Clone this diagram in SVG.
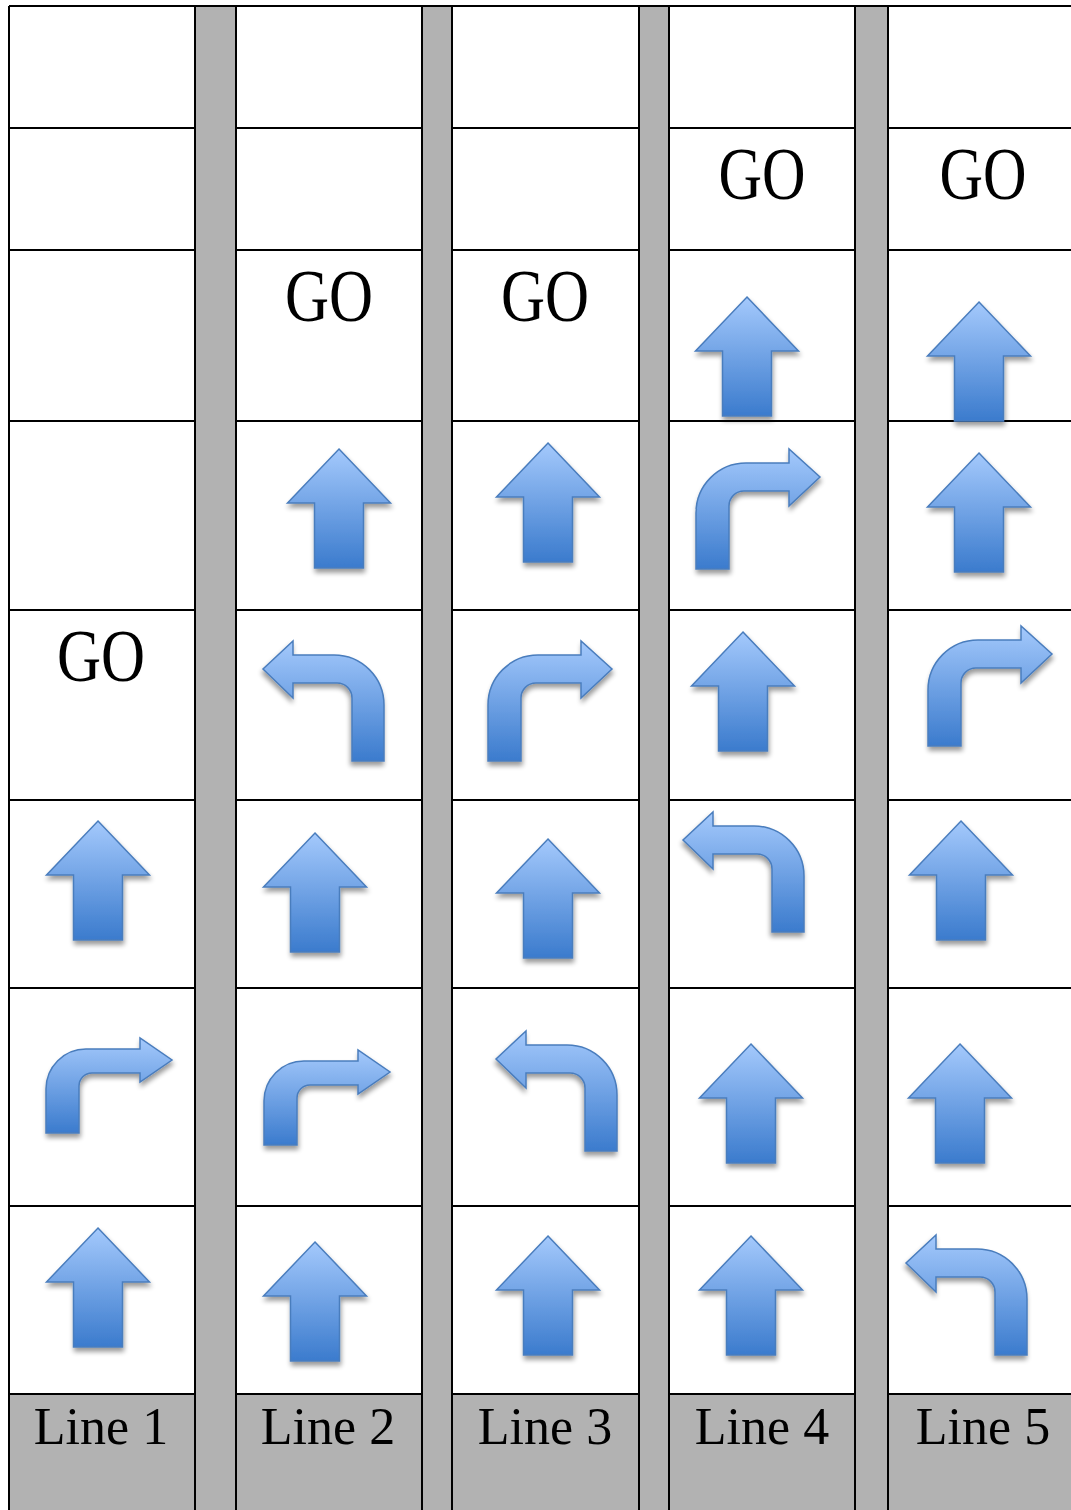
<svg xmlns="http://www.w3.org/2000/svg" width="1071" height="1510" viewBox="0 0 1071 1510">
<style>
.cell{fill:#ffffff}
.grid{stroke:#000;stroke-width:2;fill:none}
.go{font-family:"Liberation Serif","Times New Roman",serif;font-size:73px;fill:#000;text-anchor:middle}
.lbl{font-family:"Liberation Serif","Times New Roman",serif;font-size:52px;fill:#000;text-anchor:middle}
.arr{fill:url(#g);stroke:#4a7dbd;stroke-width:1.5;filter:url(#sh)}
</style>
<defs>
<linearGradient id="g" x1="0" y1="0" x2="0" y2="1">
<stop offset="0" stop-color="#a4c9fc"/>
<stop offset="1" stop-color="#3b7bcd"/>
</linearGradient>
<filter id="sh" x="-20%" y="-20%" width="140%" height="150%">
<feGaussianBlur in="SourceAlpha" stdDeviation="2.5"/>
<feOffset dx="1" dy="4" result="b"/>
<feComponentTransfer><feFuncA type="linear" slope="0.4"/></feComponentTransfer>
<feMerge><feMergeNode/><feMergeNode in="SourceGraphic"/></feMerge>
</filter>
<path id="up" d="M0,0 L51.5,54 H24.5 V119 H-24.5 V54 H-51.5 Z"/>
<path id="rt" d="M0,0 V-56 A50,50 0 0 1 50,-106 H93 V-120 L124,-92 L93,-63 V-78 H48 A15,15 0 0 0 33,-63 V0 Z"/>
<path id="lt" d="M0,0 V-56 A50,50 0 0 1 50,-106 H91 V-120 L121,-92 L91,-63 V-78 H47 A15,15 0 0 0 32,-63 V0 Z"/>
<path id="rs" d="M0,0 V-44 A40,40 0 0 1 40,-84 H94 V-95 L126,-73 L94,-51 V-60 H46 A13,13 0 0 0 33,-47 V0 Z"/>
</defs>
<rect x="9" y="6" width="1062" height="1504" fill="#b2b2b2"/>
<g id="cells">
<rect class="cell" x="9" y="6" width="186" height="1388"/>
<rect class="cell" x="236" y="6" width="186" height="1388"/>
<rect class="cell" x="452" y="6" width="187" height="1388"/>
<rect class="cell" x="669" y="6" width="186" height="1388"/>
<rect class="cell" x="888" y="6" width="183" height="1388"/>
</g>
<g id="grid" class="grid">
<path d="M9,6 H1071 M9,6 V1510 M195,6 V1510 M236,6 V1510 M422,6 V1510 M452,6 V1510 M639,6 V1510 M669,6 V1510 M855,6 V1510 M888,6 V1510"/>
<path d="M9,128 H195 M9,250 H195 M9,421 H195 M9,610 H195 M9,800 H195 M9,988 H195 M9,1206 H195 M9,1394 H195"/>
<path d="M236,128 H422 M236,250 H422 M236,421 H422 M236,610 H422 M236,800 H422 M236,988 H422 M236,1206 H422 M236,1394 H422"/>
<path d="M452,128 H639 M452,250 H639 M452,421 H639 M452,610 H639 M452,800 H639 M452,988 H639 M452,1206 H639 M452,1394 H639"/>
<path d="M669,128 H855 M669,250 H855 M669,421 H855 M669,610 H855 M669,800 H855 M669,988 H855 M669,1206 H855 M669,1394 H855"/>
<path d="M888,128 H1071 M888,250 H1071 M888,421 H1071 M888,610 H1071 M888,800 H1071 M888,988 H1071 M888,1206 H1071 M888,1394 H1071"/>
</g>
<g id="line1">
<text class="go" x="101" y="681" textLength="88" lengthAdjust="spacingAndGlyphs">GO</text>
<use href="#up" class="arr" x="98" y="821"/>
<use href="#rs" class="arr" x="46" y="1133"/>
<use href="#up" class="arr" x="98" y="1228"/>
<text class="lbl" x="101" y="1444">Line 1</text>
</g>
<g id="line2">
<text class="go" x="329" y="321" textLength="88" lengthAdjust="spacingAndGlyphs">GO</text>
<use href="#up" class="arr" x="339" y="449"/>
<use href="#lt" class="arr" transform="translate(384,761) scale(-1,1)"/>
<use href="#up" class="arr" x="315" y="833"/>
<use href="#rs" class="arr" x="264" y="1145"/>
<use href="#up" class="arr" x="315" y="1242"/>
<text class="lbl" x="328" y="1444">Line 2</text>
</g>
<g id="line3">
<text class="go" x="545" y="321" textLength="88" lengthAdjust="spacingAndGlyphs">GO</text>
<use href="#up" class="arr" x="548" y="443"/>
<use href="#rt" class="arr" x="488" y="761"/>
<use href="#up" class="arr" x="548" y="839"/>
<use href="#lt" class="arr" transform="translate(617,1151) scale(-1,1)"/>
<use href="#up" class="arr" x="548" y="1236"/>
<text class="lbl" x="545" y="1444">Line 3</text>
</g>
<g id="line4">
<text class="go" x="762" y="199" textLength="87" lengthAdjust="spacingAndGlyphs">GO</text>
<use href="#up" class="arr" x="747" y="297"/>
<use href="#rt" class="arr" x="696" y="569"/>
<use href="#up" class="arr" x="743" y="632"/>
<use href="#lt" class="arr" transform="translate(804,932) scale(-1,1)"/>
<use href="#up" class="arr" x="751" y="1044"/>
<use href="#up" class="arr" x="751" y="1236"/>
<text class="lbl" x="762" y="1444">Line 4</text>
</g>
<g id="line5">
<text class="go" x="983" y="199" textLength="87" lengthAdjust="spacingAndGlyphs">GO</text>
<use href="#up" class="arr" x="979" y="302"/>
<use href="#up" class="arr" x="979" y="453"/>
<use href="#rt" class="arr" x="928" y="746"/>
<use href="#up" class="arr" x="961" y="821"/>
<use href="#up" class="arr" x="960" y="1044"/>
<use href="#lt" class="arr" transform="translate(1027,1355) scale(-1,1)"/>
<text class="lbl" x="983" y="1444">Line 5</text>
</g>
</svg>
